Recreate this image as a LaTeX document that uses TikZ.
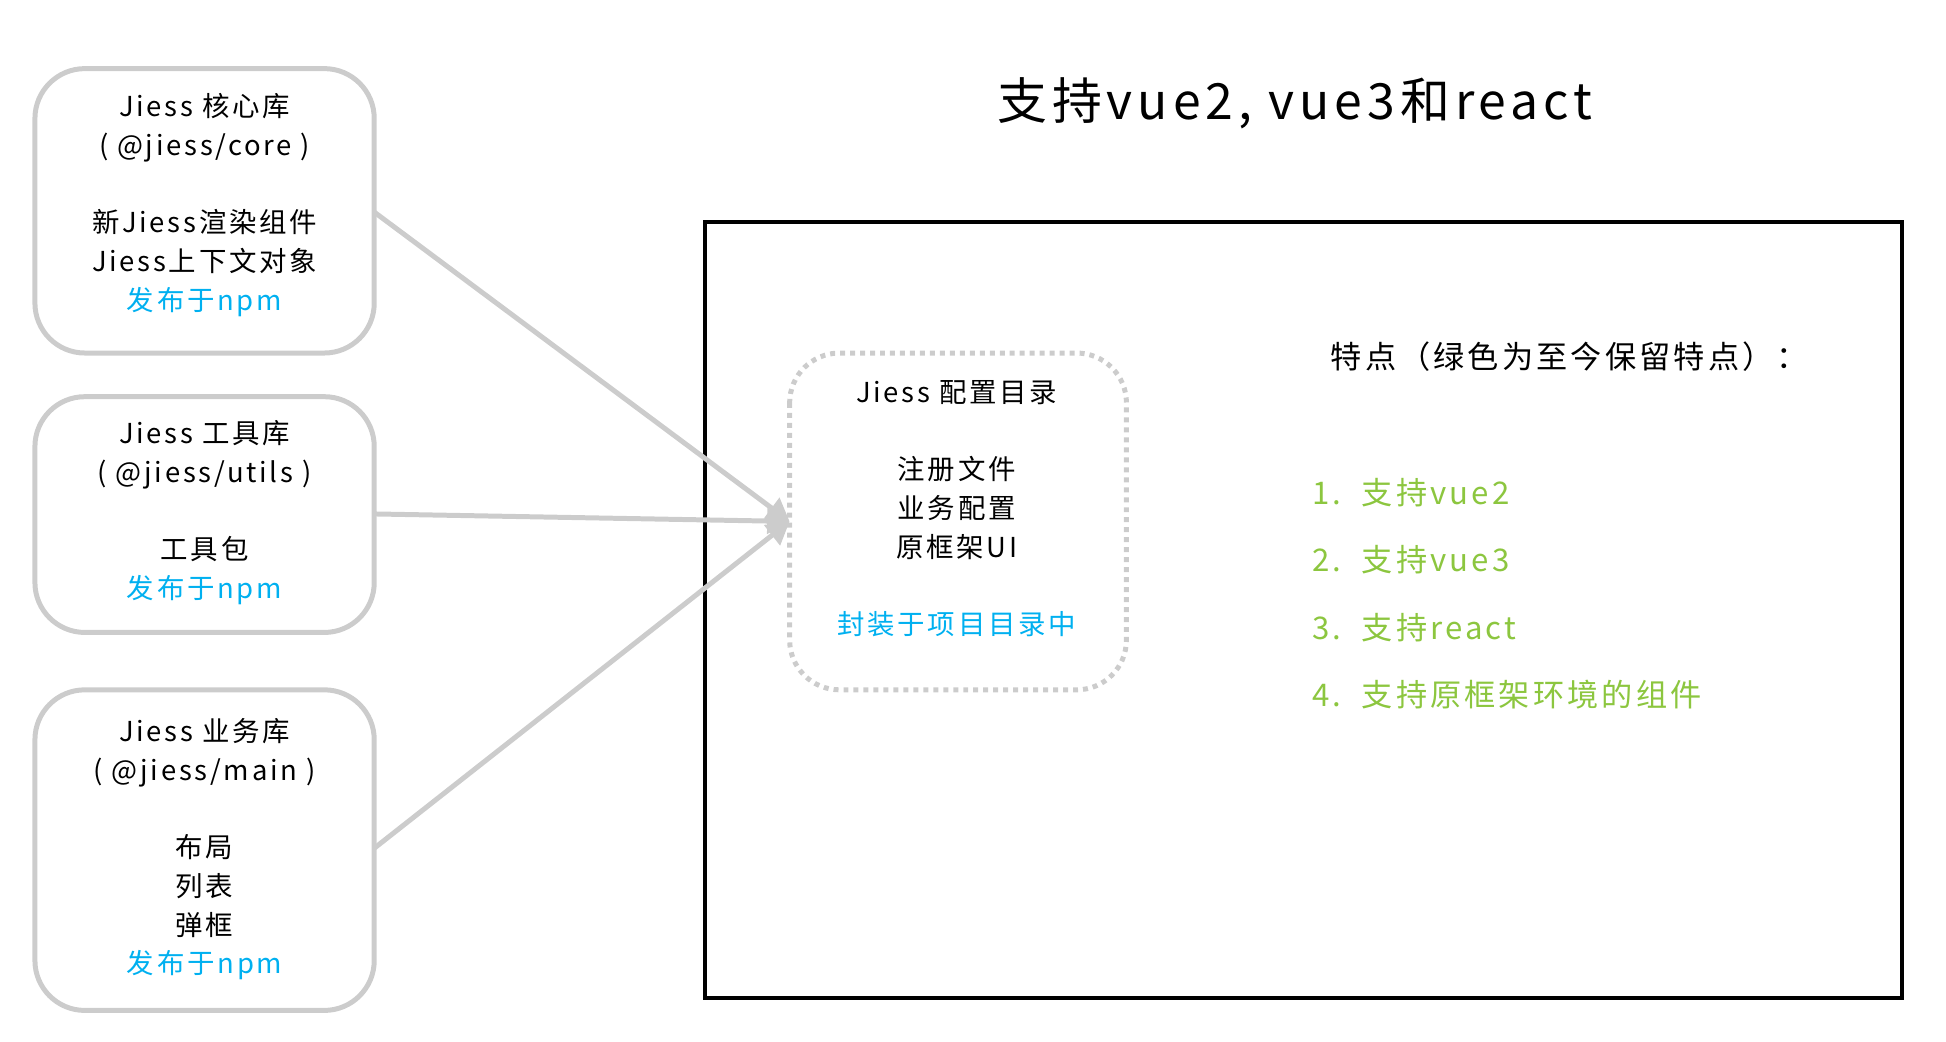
\documentclass[tikz,border=0pt]{standalone}
\usepackage{fontspec}
\setmainfont{Noto Sans CJK SC}[LetterSpace=10]
\usetikzlibrary{arrows.meta}
\definecolor{blu}{HTML}{00B0F0}
\definecolor{grn}{HTML}{8CC63F}
\definecolor{gry}{HTML}{CCCCCC}
\tikzset{
  lib/.style={draw=gry,line width=2pt,rounded corners=20pt},
  txt/.style={align=center,font=\fontsize{11}{15.5}\selectfont},
  conn/.style={draw=gry,line width=2pt,-{Triangle[length=9pt,width=10pt]}},
  item/.style={anchor=west,text=grn,font=\fontsize{12.5}{15}\selectfont}
}
\begin{document}
\begin{tikzpicture}[x=0.5pt,y=-0.5pt]
\useasboundingbox (0,0) rectangle (1560,835);
\draw[lib] (28,55) rectangle (300,283);
\draw[lib] (28,318) rectangle (300,507);
\draw[lib] (28,553) rectangle (300,810);
\draw[line width=1.5pt] (565,178) rectangle (1525,800);
\draw[gry,line width=2pt,dotted,rounded corners=20pt] (633,283) rectangle (903,553);
\coordinate (a1) at (300,170);
\coordinate (a2) at (300,412);
\coordinate (a3) at (300,680);
\coordinate (t) at (633,418);
\draw[conn] (a1) -- (t);
\draw[conn] (a2) -- (t);
\draw[conn] (a3) -- (t);
\node[txt,anchor=north] (b1) at (164,68) {Jiess 核心库\\( @jiess/core )\\[15.5pt]新Jiess渲染组件\\Jiess上下文对象\\\textcolor{blu}{发布于npm}};
\node[txt,anchor=north] (b2) at (164,330) {Jiess 工具库\\( @jiess/utils )\\[15.5pt]工具包\\\textcolor{blu}{发布于npm}};
\node[txt,anchor=north] (b3) at (164,569) {Jiess 业务库\\( @jiess/main )\\[15.5pt]布局\\列表\\弹框\\\textcolor{blu}{发布于npm}};
\node[txt,anchor=north] (c) at (767,298) {Jiess 配置目录\\[15.5pt]注册文件\\业务配置\\原框架UI\\[15.5pt]\textcolor{blu}{封装于项目目录中}};
\node[font=\fontsize{20}{24}\selectfont] (title) at (1038,83) {支持vue2, vue3和react};
\node[font=\fontsize{12.5}{15}\selectfont] (feat) at (1258,286) {特点（绿色为至今保留特点）：};
\node[item] (i1) at (1045,395) {1.\ \ 支持vue2};
\node[item] (i2) at (1045,449) {2.\ \ 支持vue3};
\node[item] (i3) at (1045,503) {3.\ \ 支持react};
\node[item] (i4) at (1045,557) {4.\ \ 支持原框架环境的组件};
\end{tikzpicture}
\end{document}
